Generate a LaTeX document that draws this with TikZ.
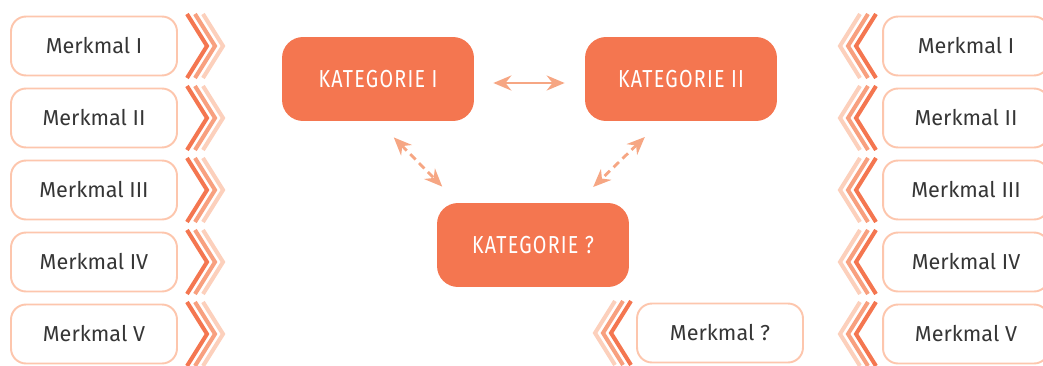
\documentclass[tikz,border=0pt]{standalone}
\usepackage{fontspec}
\setmainfont{Fira Sans}
\newfontfamily\katfont[FakeStretch=0.8,LetterSpace=5]{Fira Sans}
\usetikzlibrary{arrows.meta}

\definecolor{chevdark}{HTML}{F47650}
\definecolor{chevmid}{HTML}{F8A07F}
\definecolor{chevlight}{HTML}{FCD0BC}
\definecolor{boxline}{HTML}{FDC6AD}
\definecolor{katfill}{HTML}{F47650}
\definecolor{pfeilfarbe}{HTML}{F6A683}
\definecolor{textgrau}{HTML}{363636}

\tikzset{
  merkmal/.style={rectangle,rounded corners=0.3cm,draw=boxline,line width=1.1pt,fill=white,
    minimum width=3.32cm,minimum height=1.18cm,text=textgrau,font=\fontsize{12.3}{14}\selectfont},
  kategorie/.style={rectangle,rounded corners=0.42cm,fill=katfill,minimum width=3.84cm,
    minimum height=1.68cm,text=white,font=\katfont\fontsize{14}{16}\selectfont},
  chev/.style={line width=2.3pt},
  pfeil/.style={draw=pfeilfarbe,line width=1.6pt,
    {Stealth[length=0.36cm,width=0.3cm]}-{Stealth[length=0.36cm,width=0.3cm]}},
  pfeilgestr/.style={pfeil,dash pattern=on 0.15cm off 0.1cm},
}

\begin{document}
\begin{tikzpicture}[x=0.02cm,y=-0.02cm]

      \clip (0,0) rectangle (1043,365);

      % left column
      \node[merkmal] (L1) at (94,46){Merkmal I};
      \node[merkmal] (L2) at (94,118){Merkmal II};
      \node[merkmal] (L3) at (94,190){Merkmal III};
      \node[merkmal] (L4) at (94,262){Merkmal IV};
      \node[merkmal] (L5) at (94,334){Merkmal V};

      % right column
      \node[merkmal] (R1) at (966,46){Merkmal I};
      \node[merkmal] (R2) at (966,118){Merkmal II};
      \node[merkmal] (R3) at (966,190){Merkmal III};
      \node[merkmal] (R4) at (966,262){Merkmal IV};
      \node[merkmal] (R5) at (966,334){Merkmal V};

      \node[merkmal] (MQ) at (720,333){Merkmal ?};

      % chevrons
      \foreach \y in {46,118,190,262,334}{
        \draw[chev,chevlight] (203,\y-32) -- (223,\y) -- (203,\y+32);
        \draw[chev,chevmid] (195,\y-32) -- (215,\y) -- (195,\y+32);
        \draw[chev,chevdark] (187,\y-32) -- (207,\y) -- (187,\y+32);
        \draw[chev,chevlight] (860,\y-32) -- (840,\y) -- (860,\y+32);
        \draw[chev,chevmid] (868,\y-32) -- (848,\y) -- (868,\y+32);
        \draw[chev,chevdark] (876,\y-32) -- (856,\y) -- (876,\y+32);
      }
      \draw[chev,chevlight] (615,301) -- (595,333) -- (615,365);
      \draw[chev,chevmid] (623,301) -- (603,333) -- (623,365);
      \draw[chev,chevdark] (631,301) -- (611,333) -- (631,365);

      % categories
      \node[kategorie] (K1) at (378,79){KATEGORIE I};
      \node[kategorie] (K2) at (681,79){KATEGORIE II};
      \node[kategorie] (KQ) at (533,245){KATEGORIE ?};

      \draw[pfeil,shorten <=0.38cm,shorten >=0.4cm] ([yshift=-0.08cm]K1.east) -- ([yshift=-0.08cm]K2.west);
      \draw[pfeilgestr,shorten <=0.45cm,shorten >=0.45cm] (K1.south) -- ([xshift=-1.5cm]KQ.north);
      \draw[pfeilgestr,shorten <=0.45cm,shorten >=0.45cm] ([xshift=-0.4cm]K2.south) -- ([xshift=0.88cm]KQ.north);

    \end{tikzpicture}
\end{document}
